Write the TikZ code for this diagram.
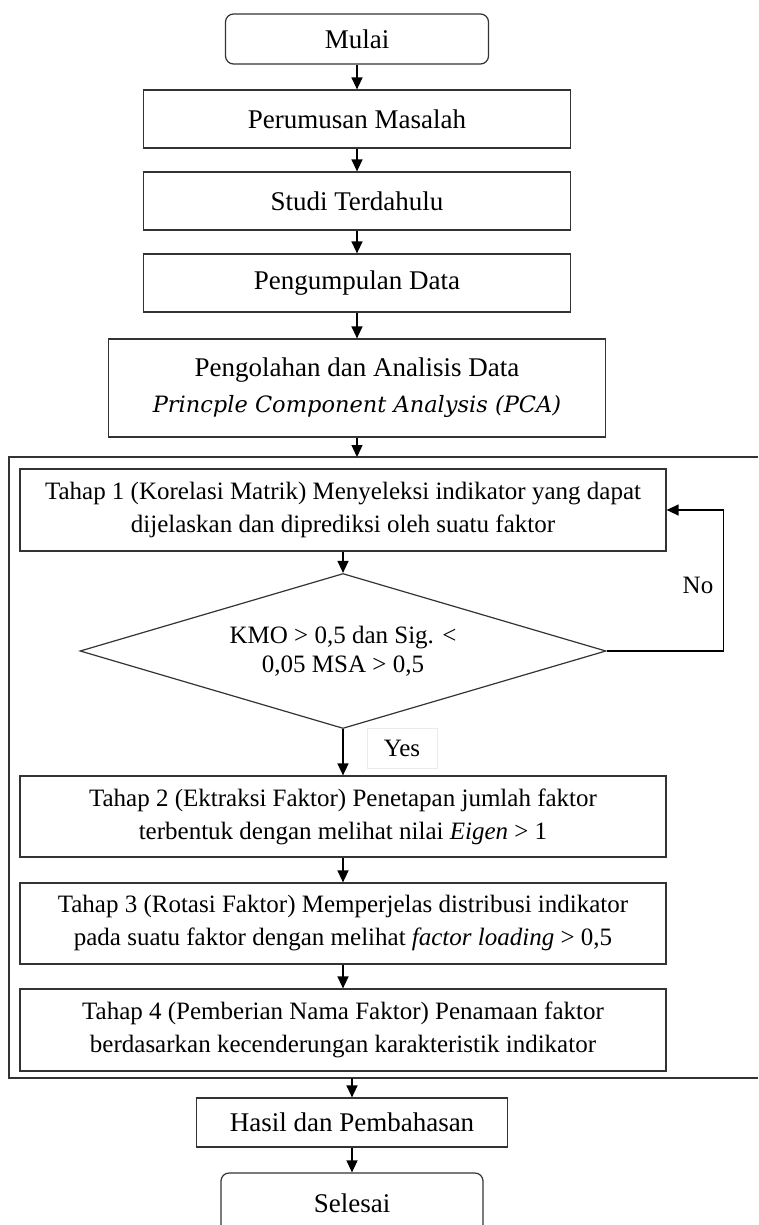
\documentclass[tikz,border=0pt]{standalone}
\usepackage{fontspec}
\setmainfont{Liberation Serif}
\newfontfamily\pcafont{DejaVu Serif}
\usetikzlibrary{arrows.meta,positioning,shapes.geometric}

\begin{document}
\begin{tikzpicture}[x=1pt,y=-1pt,
    box/.style={draw=black!80,line width=1.2pt,align=center,inner sep=0pt},
    term/.style={box,rounded corners=8pt},
    arr/.style={-{Triangle[length=12pt,width=11pt]},line width=1.3pt},
    big/.style={font=\fontsize{27}{36}\selectfont},
    small/.style={font=\fontsize{25}{33}\selectfont}]
    \useasboundingbox (0,0) rectangle (758,1225);
    \node[term,big,minimum width=263,minimum height=50] (mulai) at (357,39) {Mulai};
    \node[box,big,minimum width=427,minimum height=58] (rumus) at (357,119) {Perumusan Masalah};
    \node[box,big,minimum width=427,minimum height=58] (studi) at (357,201) {Studi Terdahulu};
    \node[box,big,minimum width=427,minimum height=58] (kumpul) at (357,283) {Pengumpulan Data};
    \node[box,big,minimum width=497,minimum height=98] (olah) at (357,388)
        {Pengolahan dan Analisis Data\\{\pcafont\itshape\fontsize{22.5}{36}\selectfont Princple Component Analysis (PCA)}};
    \coordinate (ftop) at (357,457);
    \coordinate (fbot) at (352,1078);
    \draw[line width=1.2pt,black!80] (758,457) -- (9,457) -- (9,1078) -- (758,1078);
    \node[box,small,minimum width=646,minimum height=82] (tahap1) at (343,510)
        {Tahap 1 (Korelasi Matrik) Menyeleksi indikator yang dapat\\dijelaskan dan diprediksi oleh suatu faktor};
    \node[draw=black!80,line width=1.2pt,diamond,aspect=3.4,inner sep=0pt,minimum width=526,minimum height=155,
        align=center,font=\fontsize{25}{29}\selectfont] (cek) at (343,651) {KMO > 0,5 dan Sig. <\\0,05 MSA > 0,5};
    \node[box,small,minimum width=646,minimum height=81] (tahap2) at (343,816.5)
        {Tahap 2 (Ektraksi Faktor) Penetapan jumlah faktor\\terbentuk dengan melihat nilai \textit{Eigen} > 1};
    \node[box,small,minimum width=646,minimum height=81] (tahap3) at (343,923.5)
        {Tahap 3 (Rotasi Faktor) Memperjelas distribusi indikator\\pada suatu faktor dengan melihat \textit{factor loading} > 0,5};
    \node[box,small,minimum width=646,minimum height=82] (tahap4) at (343,1030)
        {Tahap 4 (Pemberian Nama Faktor) Penamaan faktor\\berdasarkan kecenderungan karakteristik indikator};
    \node[box,big,minimum width=311,minimum height=49] (hasil) at (352,1122.5) {Hasil dan Pembahasan};
    \node[term,big,minimum width=262,minimum height=60] (selesai) at (352,1203) {Selesai};
    \node[draw=black!8,small,minimum width=70,minimum height=40] (ya) at (402,748) {Yes};
    \node[small] (tidak) at (698,585) {No};
    \draw[arr] (mulai) -- (rumus);
    \draw[arr] (rumus) -- (studi);
    \draw[arr] (studi) -- (kumpul);
    \draw[arr] (kumpul) -- (olah);
    \draw[arr] (olah.south) -- (ftop);
    \draw[arr] (tahap1) -- (cek);
    \draw[arr] (cek) -- (tahap2);
    \draw[arr] (cek.east) -- ++(117,0) |- (tahap1.east);
    \draw[arr] (tahap2) -- (tahap3);
    \draw[arr] (tahap3) -- (tahap4);
    \draw[arr] (fbot) -- (hasil);
    \draw[arr] (hasil) -- (selesai);
\end{tikzpicture}
\end{document}
